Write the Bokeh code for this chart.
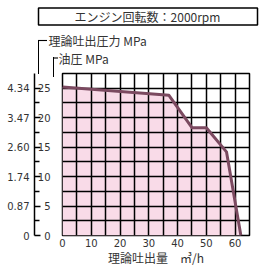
from bokeh.plotting import figure
from bokeh.models import LinearAxis, FixedTicker, Range1d, Label
from bokeh.embed import file_html
from bokeh.resources import INLINE

# data
flow = [0, 37, 45, 50, 57, 62]                 # 理論吐出量 m3/h
pressure = [25.2, 23.8, 18.3, 18.3, 14.2, 0]   # 油圧 MPa
x_ticks = [0, 10, 20, 30, 40, 50, 60]
y_ticks = [0, 5, 10, 15, 20, 25]
outer_labels = ["0", "0.87", "1.74", "2.60", "3.47", "4.34"]
title_text = "エンジン回転数：2000rpm"
outer_title = "理論吐出圧力 MPa"
inner_title = "油圧 MPa"
x_title = "理論吐出量　㎥/h"

TXT = "#333333"
NUM_FONT = "DejaVu Sans"
JP_FONT = "Noto Sans CJK JP"

p = figure(width=270, height=276, output_backend="svg", toolbar_location=None,
           x_range=Range1d(0, 65), y_range=Range1d(0, 27.5),
           min_border_left=62, min_border_right=21, min_border_top=73,
           min_border_bottom=41)
p.background_fill_color = "white"
p.border_fill_color = "white"
p.outline_line_color = "black"
p.outline_line_width = 1.5

p.xgrid.ticker = FixedTicker(ticks=list(range(5, 65, 5)))
p.ygrid.ticker = FixedTicker(ticks=[i * 2.5 for i in range(1, 11)])
for g in (p.xgrid[0], p.ygrid[0]):
    g.grid_line_color = "black"
    g.grid_line_width = 1.5
    g.grid_line_alpha = 1

area = p.varea(x=flow, y1=0, y2=pressure, fill_color="#f9dbe8")
area.level = "image"
p.line(flow, pressure, line_color="#7b4a60", line_width=3, line_join="round")

xa = p.xaxis[0]
xa.ticker = FixedTicker(ticks=x_ticks)
xa.axis_line_color = None
xa.major_tick_line_color = None
xa.minor_tick_line_color = None
xa.major_tick_out = 0
xa.minor_tick_out = 0
xa.major_label_text_font = NUM_FONT
xa.major_label_text_font_size = "10px"
xa.major_label_text_color = TXT
xa.major_label_standoff = 3
xa.axis_label = x_title
xa.axis_label_text_font = JP_FONT
xa.axis_label_text_font_size = "12px"
xa.axis_label_text_font_style = "normal"
xa.axis_label_text_color = TXT
xa.axis_label_standoff = -1

ya = p.yaxis[0]
ya.ticker = FixedTicker(ticks=y_ticks)
ya.axis_line_color = None
ya.major_tick_line_color = None
ya.minor_tick_line_color = None
ya.major_label_text_font = NUM_FONT
ya.major_label_text_font_size = "10px"
ya.major_label_text_color = TXT
ya.major_label_standoff = 6

oa = LinearAxis(ticker=FixedTicker(ticks=y_ticks,
                                   minor_ticks=[i * 2.5 for i in range(1, 11, 2)]),
                major_label_overrides={t: s for t, s in zip(y_ticks, outer_labels)})
oa.axis_line_color = "black"
oa.axis_line_width = 1.5
oa.major_tick_in = 6
oa.major_tick_out = 0
oa.minor_tick_in = 5
oa.minor_tick_out = 0
oa.major_tick_line_width = 1.5
oa.minor_tick_line_width = 1.5
oa.major_label_text_font = NUM_FONT
oa.major_label_text_font_size = "10px"
oa.major_label_text_color = TXT
oa.major_label_standoff = 5
p.add_layout(oa, "left")

# ---- header decorations (canvas pixels); side panels are not clipped ----
def rule(cx, cy, w, h, place, filled=True):
    """thin box drawn as an (invisible-text) label's background / border"""
    kw = dict(x=cx, y=cy, x_units="canvas", y_units="canvas", text="\u3000",
              text_font_size="1px", text_align="center", text_baseline="middle",
              text_color="black",
              padding=dict(left=int(w // 2), right=int(w - w // 2),
                           top=int(h // 2), bottom=int(h - h // 2)))
    if filled:
        kw.update(background_fill_color="black", background_fill_alpha=1)
    else:
        kw.update(border_line_color="black", border_line_width=1.5)
    p.add_layout(Label(**kw), place)

rule(147.5, 16, 218, 16, "above", filled=False)   # title frame
rule(38, 56.5, 0, 33, "right")                    # outer bracket (vertical)
rule(42, 40, 8, 0, "right")                       # outer bracket (stub)
rule(53, 66.5, 0, 19, "right")                    # inner bracket (vertical)
rule(55, 57.5, 4, 0, "right")                     # inner bracket (stub)

def header_text(x, y, txt, align):
    p.add_layout(Label(x=x, y=y, x_units="canvas", y_units="canvas", text=txt,
                       text_align=align, text_baseline="middle", text_font=JP_FONT,
                       text_font_size="12px", text_color=TXT), "above")

header_text(147, 16, title_text, "center")
header_text(48, 40, outer_title, "left")
header_text(58, 57.5, inner_title, "left")

open("out.html", "w").write(file_html(p, INLINE))
